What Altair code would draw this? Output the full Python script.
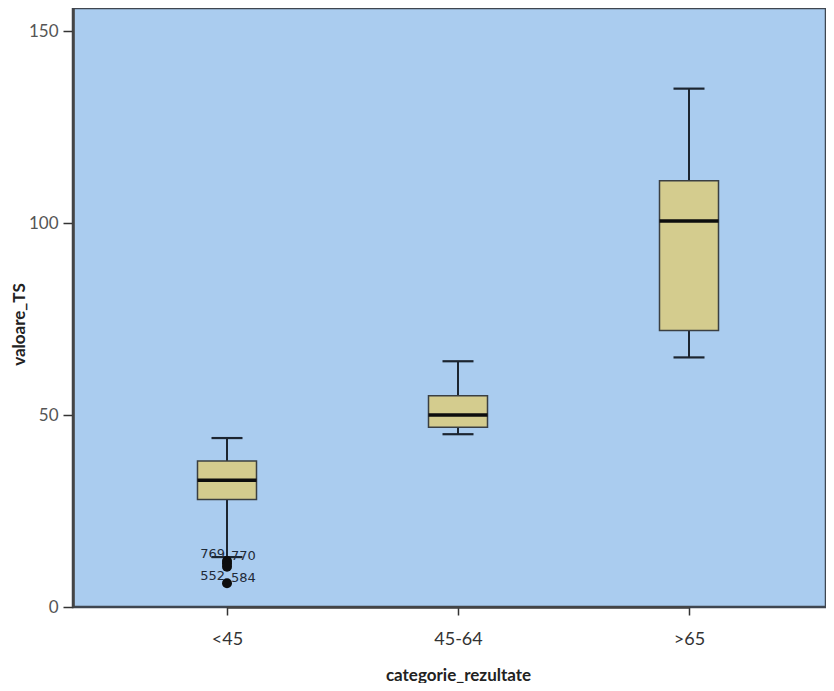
import altair as alt
import pandas as pd

categories = ["<45", "45-64", ">65"]
whisker_low = [13, 45, 65]
q1 = [28, 46.8, 72]
median = [33, 50, 100.5]
q3 = [38, 55, 111]
whisker_high = [44, 64, 135]

outlier_cat = ["<45", "<45", "<45", "<45"]
outlier_val = [12, 11.3, 10.5, 6.2]

label_cat = ["<45", "<45", "<45", "<45"]
label_val = [12, 12, 6.2, 6.2]
label_text = ["769", "770", "552", "584"]
label_side = ["left", "right", "left", "right"]

boxes = pd.DataFrame({
    "cat": categories, "lo": whisker_low, "q1": q1, "med": median,
    "q3": q3, "hi": whisker_high,
})
outs = pd.DataFrame({"cat": outlier_cat, "val": outlier_val})
labs = pd.DataFrame({"cat": label_cat, "val": label_val,
                     "txt": label_text, "side": label_side})

FONT = "Lato"
xscale = alt.Scale(domain=categories, type="point", range=[154, 616], padding=0)
yscale = alt.Scale(domain=[0, 156], nice=False, zero=True)

x_enc = alt.X("cat:N", scale=xscale, sort=categories,
              axis=alt.Axis(title="categorie_rezultate", labelAngle=0,
                            labelFont=FONT, labelFontSize=18, labelColor="#333",
                            labelPadding=15, titleFont=FONT, titleFontSize=17,
                            titleFontWeight="bold", titleColor="#222",
                            titlePadding=19, tickSize=8, tickColor="#333",
                            tickWidth=1.5, domainColor="#444", domainWidth=2.5,
                            grid=False))
y_axis = alt.Axis(title="valoare_TS", values=[0, 50, 100, 150],
                  labelFont=FONT, labelFontSize=17, labelColor="#555",
                  labelPadding=5, titleFont=FONT, titleFontSize=17,
                  titleFontWeight="bold", titleColor="#222", titlePadding=0,
                  titleY=316,
                  tickSize=10, tickColor="#333", tickWidth=1.5,
                  domainColor="#444", domainWidth=2.5, grid=False)

base = alt.Chart(boxes)

whisk = base.mark_rule(color="#1c2530", strokeWidth=2, opacity=1).encode(
    x=x_enc,
    y=alt.Y("lo:Q", scale=yscale, axis=y_axis),
    y2="hi:Q",
)
box = base.mark_bar(size=59, color="#D4CC8E", stroke="#3a3f42",
                    strokeWidth=1.5, opacity=1).encode(
    x=alt.X("cat:N", scale=xscale, sort=categories),
    y=alt.Y("q1:Q", scale=yscale),
    y2="q3:Q",
)
med = base.mark_tick(size=59, thickness=3.5, color="#0d0d0d", opacity=1).encode(
    x=alt.X("cat:N", scale=xscale, sort=categories),
    y=alt.Y("med:Q", scale=yscale),
)
cap_hi = base.mark_tick(size=31, thickness=2.2, color="#1c2530", opacity=1).encode(
    x=alt.X("cat:N", scale=xscale, sort=categories),
    y=alt.Y("hi:Q", scale=yscale),
)
cap_lo = base.mark_tick(size=31, thickness=2.2, color="#1c2530", opacity=1).encode(
    x=alt.X("cat:N", scale=xscale, sort=categories),
    y=alt.Y("lo:Q", scale=yscale),
)
pts = alt.Chart(outs).mark_circle(size=100, color="#0d0d0d", opacity=1).encode(
    x=alt.X("cat:N", scale=xscale, sort=categories),
    y=alt.Y("val:Q", scale=yscale),
)
lab_left = alt.Chart(labs).transform_filter(alt.datum.side == "left").mark_text(
    align="right", baseline="middle", dx=-2, dy=-7, font="DejaVu Sans",
    fontSize=13, color="#1f2a38").encode(
    x=alt.X("cat:N", scale=xscale, sort=categories),
    y=alt.Y("val:Q", scale=yscale),
    text="txt:N",
)
lab_right = alt.Chart(labs).transform_filter(alt.datum.side == "right").mark_text(
    align="left", baseline="middle", dx=4, dy=-5, font="DejaVu Sans",
    fontSize=13, color="#1f2a38").encode(
    x=alt.X("cat:N", scale=xscale, sort=categories),
    y=alt.Y("val:Q", scale=yscale),
    text="txt:N",
)

chart = alt.layer(whisk, box, med, cap_hi, cap_lo, pts, lab_left, lab_right).properties(
    width=753, height=599,
    autosize=alt.AutoSizeParams(type="none"),
    padding={"left": 65, "top": 0, "right": 0, "bottom": 76},
    background="#ffffff",
).configure_view(
    fill="#AACCEF", stroke="#3f4650", strokeWidth=2.5,
)

chart.save("out.html", embed_options={"renderer": "svg", "actions": False})
